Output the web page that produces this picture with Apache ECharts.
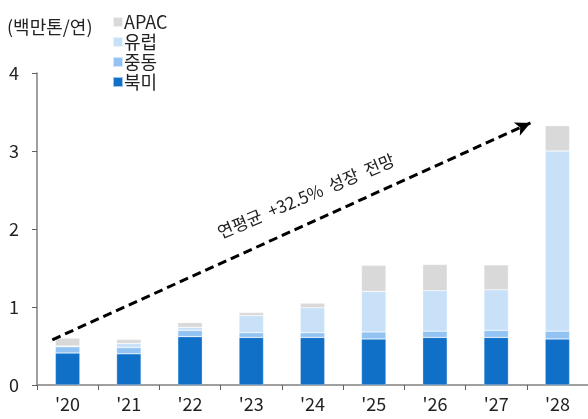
<!DOCTYPE html>
<html>
<head>
<meta charset="utf-8">
<script src="https://cdn.jsdelivr.net/npm/echarts@6/dist/echarts.min.js"></script>
<style>
  html, body { margin: 0; padding: 0; background: #fff; }
  #chart { width: 588px; height: 419px; }
</style>
</head>
<body>
<div id="chart"></div>
<script>
// Capacity by region (million tonnes / year)
const years = ["'20", "'21", "'22", "'23", "'24", "'25", "'26", "'27", "'28"];
const northAmerica = [0.41, 0.40, 0.62, 0.61, 0.61, 0.59, 0.61, 0.61, 0.59];
const middleEast   = [0.08, 0.08, 0.08, 0.06, 0.06, 0.09, 0.08, 0.09, 0.10];
const europe       = [0.01, 0.055, 0.04, 0.22, 0.32, 0.52, 0.52, 0.52, 2.31];
const apac         = [0.10, 0.05, 0.06, 0.04, 0.06, 0.335, 0.335, 0.32, 0.325];
const yTicks = [0, 1, 2, 3, 4];

// Trend arrow endpoints on a continuous x scale (category i spans [i, i+1])
const trendLine = [[0.25, 0.58], [8.06, 3.36]];
const trendText = '연평균  +32.5%  성장  전망';

const FONT = '"Noto Sans CJK KR", "Noto Sans", sans-serif';
const TXT = '#222';

const chart = echarts.init(document.getElementById('chart'));

function barSeries(name, data, color) {
  return {
    name, type: 'bar', stack: 'cap', data,
    barWidth: '40%',
    itemStyle: { color, borderColor: 'rgba(255,255,255,0.6)', borderWidth: 0.5 },
    xAxisIndex: 0, yAxisIndex: 0
  };
}

chart.setOption({
  animation: false,
  textStyle: { fontFamily: FONT },
  grid: { left: 37, right: 0, top: 73, bottom: 34, containLabel: false },
  legend: {
    orient: 'vertical',
    left: 107, top: 8,
    itemWidth: 10, itemHeight: 10, itemGap: 2,
    icon: 'rect',
    textStyle: { fontFamily: FONT, fontSize: 18, color: TXT, padding: [0, 0, 0, -4] },
    data: ['APAC', '유럽', '중동', '북미']
  },
  graphic: [
    {
      type: 'text', left: 7, top: 18,
      style: { text: '(백만톤/연)', font: '18px ' + FONT, fill: TXT }
    },
    {
      type: 'text', x: 306, y: 196, rotation: 0.40,
      style: { text: trendText, font: '17px ' + FONT, fill: TXT, align: 'center', verticalAlign: 'middle' }
    }
  ],
  xAxis: [
    {
      type: 'category', data: years,
      axisLine: { lineStyle: { color: '#808080', width: 1.5 } },
      axisTick: { show: true, length: 5, lineStyle: { color: '#606060' } },
      axisLabel: { fontSize: 18, color: TXT, margin: 10, fontFamily: FONT }
    },
    {
      type: 'value', min: 0, max: 9, show: false
    }
  ],
  yAxis: {
    type: 'value', min: 0, max: 4, interval: 1,
    axisLine: { show: true, lineStyle: { color: '#808080', width: 1.5 } },
    axisTick: { show: true, length: 5, lineStyle: { color: '#606060' } },
    axisLabel: { fontSize: 18, color: TXT, margin: 28, align: 'left', fontFamily: FONT,
      formatter: v => yTicks.includes(v) ? String(v) : '' },
    splitLine: { show: false }
  },
  series: [
    barSeries('북미', northAmerica, '#1070C8'),
    barSeries('중동', middleEast, '#92C3F2'),
    barSeries('유럽', europe, '#C8E1F9'),
    barSeries('APAC', apac, '#D9D9D9'),
    {
      type: 'line', xAxisIndex: 1, yAxisIndex: 0,
      data: [], silent: true,
      markLine: {
        silent: true,
        symbol: ['none', 'arrow'], symbolSize: [11, 15],
        label: { show: false },
        lineStyle: { color: '#000', type: [9, 5], width: 3 },
        data: [[{ coord: trendLine[0] }, { coord: trendLine[1] }]]
      }
    }
  ]
});
</script>
</body>
</html>
